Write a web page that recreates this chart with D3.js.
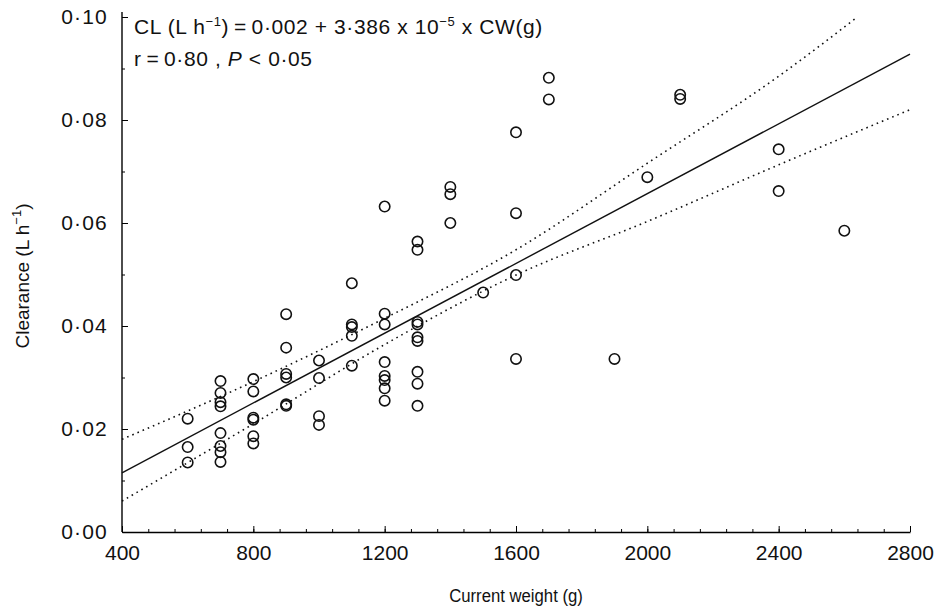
<!DOCTYPE html>
<html>
<head>
<meta charset="utf-8">
<script src="https://cdn.jsdelivr.net/npm/d3@7"></script>
<style>
  body { margin: 0; background: #fff; }
  text { font-family: "Liberation Sans", Arial, sans-serif; fill: #111; }
</style>
</head>
<body>
<div id="chart"></div>
<script>
// body weight (g) and clearance (L/h) for each animal
var weights = [
  600, 600, 600,
  700, 700, 700, 700, 700, 700, 700, 700,
  800, 800, 800, 800, 800, 800,
  900, 900, 900, 900, 900, 900,
  1000, 1000, 1000, 1000,
  1100, 1100, 1100, 1100, 1100,
  1200, 1200, 1200, 1200, 1200, 1200, 1200, 1200,
  1300, 1300, 1300, 1300, 1300, 1300, 1300, 1300, 1300,
  1400, 1400, 1400,
  1500,
  1600, 1600, 1600, 1600,
  1700, 1700,
  1900,
  2000,
  2100, 2100,
  2400, 2400,
  2600
];
var clearance = [
  0.0220, 0.0165, 0.0135,
  0.0293, 0.0270, 0.0252, 0.0244, 0.0192, 0.0167, 0.0155, 0.0136,
  0.0297, 0.0273, 0.0222, 0.0218, 0.0186, 0.0172,
  0.0423, 0.0358, 0.0307, 0.0300, 0.0248, 0.0245,
  0.0333, 0.0299, 0.0225, 0.0208,
  0.0483, 0.0403, 0.0398, 0.0381, 0.0323,
  0.0632, 0.0424, 0.0403, 0.0330, 0.0303, 0.0295, 0.0279, 0.0255,
  0.0564, 0.0548, 0.0408, 0.0403, 0.0378, 0.0371, 0.0311, 0.0288, 0.0245,
  0.0670, 0.0656, 0.0600,
  0.0465,
  0.0776, 0.0619, 0.0499, 0.0336,
  0.0882, 0.0840,
  0.0336,
  0.0689,
  0.0849, 0.0841,
  0.0743, 0.0662,
  0.0585
];

// fitted line and its confidence band
var fitX = [400, 2800];
var fitY = [0.0115, 0.0928];
var upperX = [400, 800, 1200, 1600, 2000, 2400, 2640];
var upperY = [0.0180, 0.0292, 0.0415, 0.0548, 0.0716, 0.0885, 0.1000];
var lowerX = [400, 800, 1200, 1600, 2000, 2400, 2800];
var lowerY = [0.0060, 0.0210, 0.0364, 0.0499, 0.0603, 0.0713, 0.0820];

var xTicks = [400, 800, 1200, 1600, 2000, 2400, 2800];
var yTicks = [0, 0.02, 0.04, 0.06, 0.08, 0.10];

var width = 942, height = 613;

var svg = d3.select("#chart").append("svg")
  .attr("width", width)
  .attr("height", height);

var x = d3.scaleLinear().domain([400, 2800]).range([122, 910]);
var y = d3.scaleLinear().domain([0, 0.10]).range([532, 17]);

// decimals are printed with a raised dot, 0·02
var dot = function (s) { return s.replace(".", "\u00b7"); };

// minor ticks first so the major ones sit on top
svg.append("g")
  .attr("transform", "translate(0,532)")
  .call(d3.axisBottom(x).tickValues(d3.range(400, 2801, 80)).tickSize(-3).tickFormat(""))
  .call(function (g) { g.select(".domain").remove(); });
svg.append("g")
  .attr("transform", "translate(122,0)")
  .call(d3.axisLeft(y).tickValues(d3.range(0, 0.1001, 0.01)).tickSize(-3).tickFormat(""))
  .call(function (g) { g.select(".domain").remove(); });

var xAxis = svg.append("g")
  .attr("transform", "translate(0,532)")
  .call(d3.axisBottom(x).tickValues(xTicks).tickSize(-6).tickSizeOuter(0).tickPadding(13)
    .tickFormat(d3.format("d")));

var yAxis = svg.append("g")
  .attr("transform", "translate(122,0)")
  .call(d3.axisLeft(y).tickValues(yTicks).tickSize(-6).tickSizeOuter(0).tickPadding(14)
    .tickFormat(function (d) { return dot(d3.format(".2f")(d)); }));

xAxis.selectAll("text").style("font-size", "21px");
yAxis.selectAll("text").style("font-size", "21px").style("letter-spacing", "1.2px");
// y axis line runs a little past the top tick
yAxis.select(".domain").attr("d", "M0,532V12");
[xAxis, yAxis].forEach(function (g) {
  g.selectAll("text").style("font-family", "Liberation Sans, Arial, sans-serif");
  g.select(".domain").attr("stroke-width", 1.4);
  g.selectAll("line").attr("stroke-width", 1);
});

// axis titles
svg.append("text")
  .attr("transform", "translate(516,602) scale(0.88,1)")
  .attr("text-anchor", "middle")
  .style("font-size", "19px")
  .text("Current weight (g)");

var yt = svg.append("text")
  .attr("transform", "translate(29,276) rotate(-90)")
  .attr("text-anchor", "middle")
  .style("font-size", "19px");
yt.append("tspan").text("Clearance (L h");
yt.append("tspan").attr("dy", -8).style("font-size", "13px").text("\u22121");
yt.append("tspan").attr("dy", 8).text(")");

// band and fitted line
var line = d3.line().x(function (d) { return x(d[0]); }).y(function (d) { return y(d[1]); });
var smooth = d3.line().curve(d3.curveMonotoneX)
  .x(function (d) { return x(d[0]); }).y(function (d) { return y(d[1]); });

svg.append("path")
  .attr("d", smooth(d3.zip(upperX, upperY)))
  .attr("fill", "none").attr("stroke", "#111").attr("stroke-width", 1.6)
  .attr("stroke-dasharray", "1.6,4");
svg.append("path")
  .attr("d", smooth(d3.zip(lowerX, lowerY)))
  .attr("fill", "none").attr("stroke", "#111").attr("stroke-width", 1.6)
  .attr("stroke-dasharray", "1.6,4");
svg.append("path")
  .attr("d", line(d3.zip(fitX, fitY)))
  .attr("fill", "none").attr("stroke", "#111").attr("stroke-width", 1.4);

// points
svg.append("g").selectAll("circle")
  .data(d3.zip(weights, clearance))
  .enter().append("circle")
  .attr("cx", function (d) { return x(d[0]); })
  .attr("cy", function (d) { return y(d[1]); })
  .attr("r", 5.2)
  .attr("fill", "none")
  .attr("stroke", "#111")
  .attr("stroke-width", 1.6);

// equation and statistics
var eq = svg.append("text").attr("x", 134).attr("y", 34)
  .style("font-size", "21px").style("letter-spacing", "0.6px");
eq.append("tspan").text("CL  (L h");
eq.append("tspan").attr("dy", -8).style("font-size", "13px").text("\u22121");
eq.append("tspan").attr("dy", 8).text(")\u2009=\u20090\u00b7002 + 3\u00b7386  x  10");
eq.append("tspan").attr("dy", -8).style("font-size", "13px").text("\u22125");
eq.append("tspan").attr("dy", 8).text(" x CW(g)");

var st = svg.append("text").attr("x", 134).attr("y", 66)
  .style("font-size", "21px").style("letter-spacing", "0.6px");
st.append("tspan").text("r\u2009=\u20090\u00b780 , ");
st.append("tspan").style("font-style", "italic").text("P");
st.append("tspan").text("  <  0\u00b705");
</script>
</body>
</html>
